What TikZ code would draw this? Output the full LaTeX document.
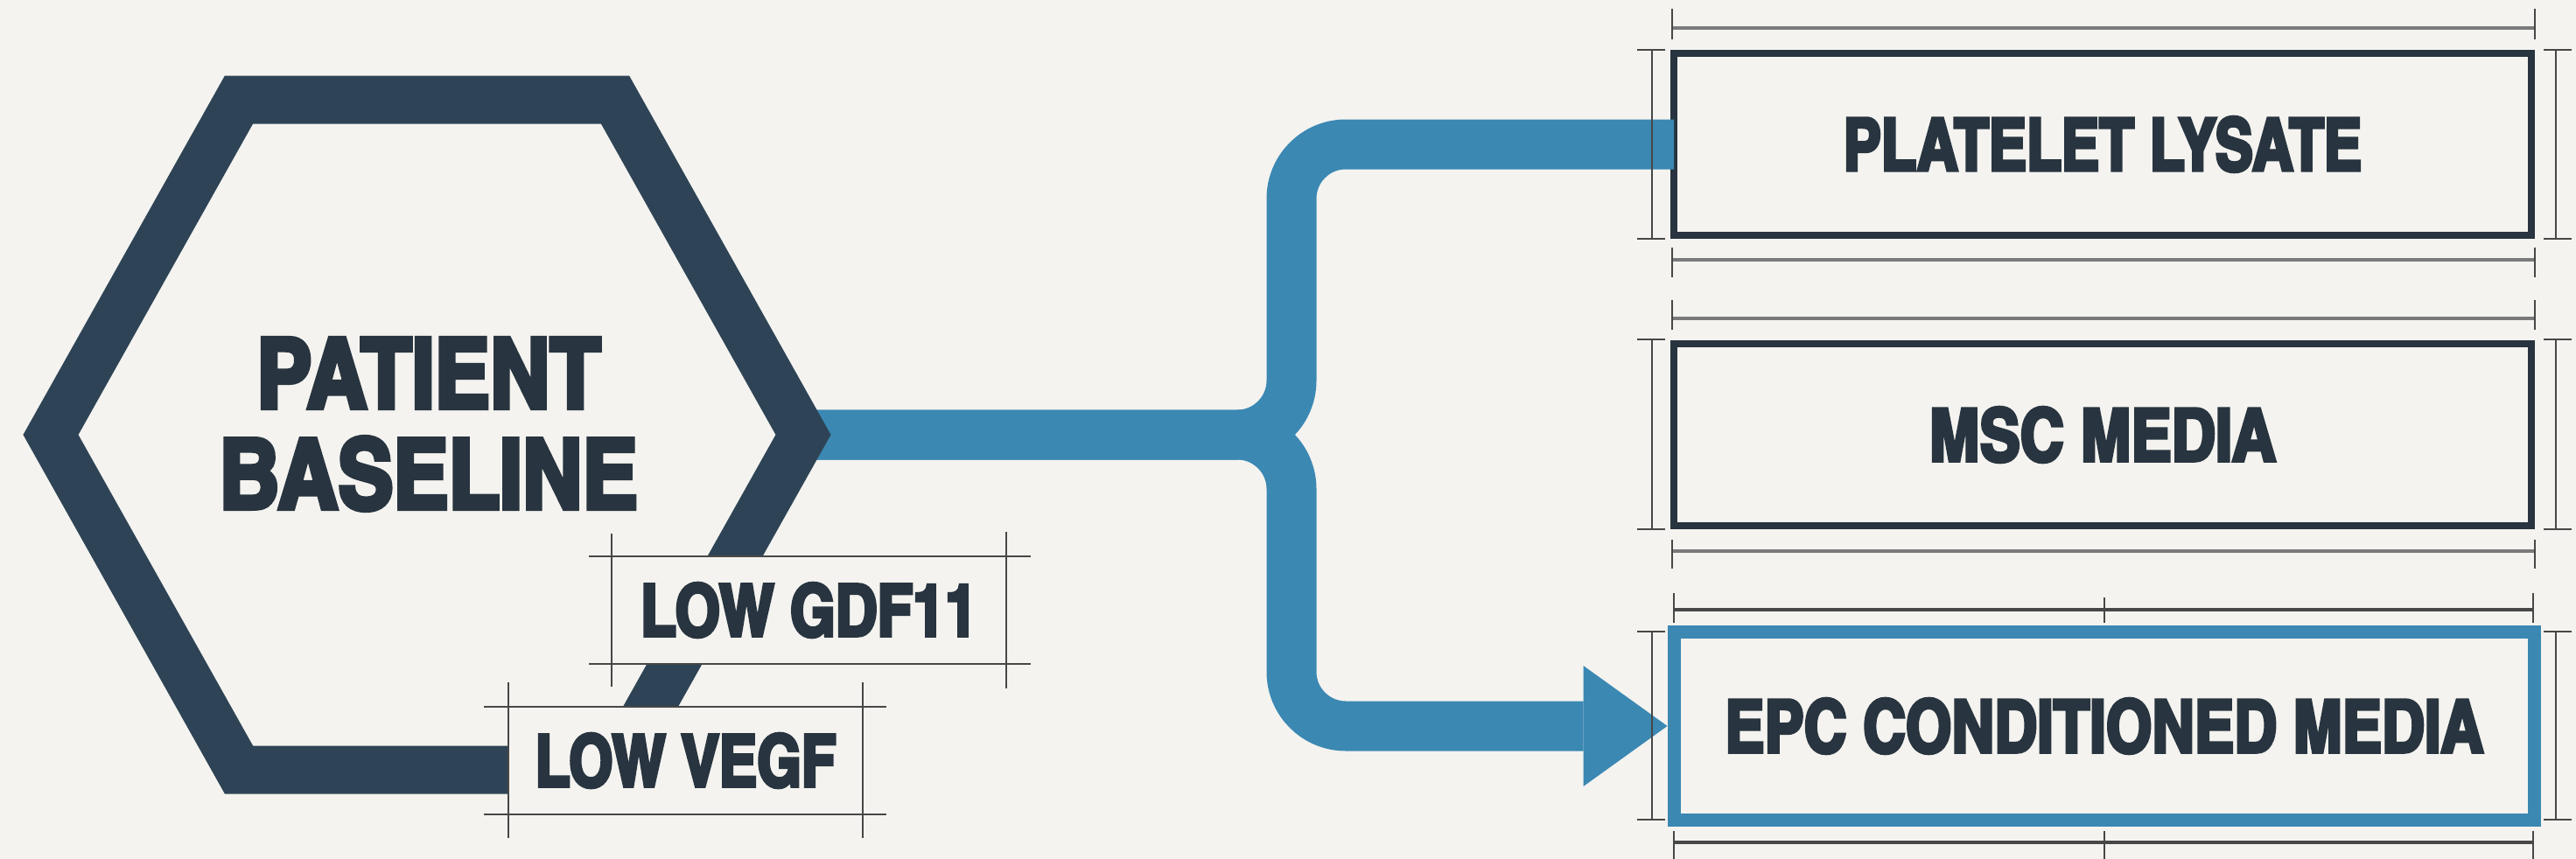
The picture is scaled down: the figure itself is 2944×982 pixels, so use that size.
\documentclass[tikz,border=0pt]{standalone}
\usepackage{fontspec}
\setmainfont{Liberation Sans}
\newfontfamily\condbold{texgyreheroscn-bold.otf}[FakeBold=4.5]
\usetikzlibrary{arrows.meta,calc}

\definecolor{bg}{HTML}{F4F3EF}
\definecolor{slate}{HTML}{2E4456}
\definecolor{ink}{HTML}{28343F}
\definecolor{flow}{HTML}{3B88B3}
\definecolor{rulegray}{HTML}{7A7A7A}
\definecolor{ruledark}{HTML}{474747}

\newcommand\hexlabelfont{\condbold\fontsize{111.4pt}{113pt}\selectfont}
\newcommand\taglabelfont{\condbold\fontsize{82pt}{84pt}\selectfont}
\newcommand\medialabelfont{\condbold\fontsize{83.2pt}{85pt}\selectfont}

\begin{document}
\begin{tikzpicture}[x=1pt,y=-1pt,
  lbl/.style={text=ink, inner sep=0pt, outer sep=0pt},
  flowline/.style={draw=flow, line width=57pt},
  tagbox/.style={lbl, fill=bg, font=\taglabelfont},
  tagrule/.style={draw=ruledark, line width=2.5pt},
  mediabox/.style={lbl, draw=ink, line width=8pt, fill=bg, font=\medialabelfont,
                   minimum width=980pt, minimum height=208pt},
  dimrule/.style={draw=rulegray, line width=3.5pt},
  dimtick/.style={draw=ruledark, line width=2.5pt}]

% canvas
\fill[bg] (0,0) rectangle (2944,982);
\useasboundingbox (0,0) rectangle (2944,982);

% right column: target media
\node[mediabox] (plt) at (2403,165) {\scalebox{0.952}[1]{PLATELET LYSATE}};
\node[mediabox] (msc) at (2403,497) {\scalebox{1.015}[1]{MSC MEDIA}};
\node[mediabox, draw=flow, line width=15pt, minimum width=983pt, minimum height=215pt]
  (epc) at (2405,830) {\scalebox{0.99}[1]{EPC CONDITIONED MEDIA}};

% hexagon vertex where the flow leaves
\coordinate (hexE) at (918,497);

% branching flow
\draw[flowline, rounded corners=62pt] (hexE) -- (1476,497) -- (1476,165) -- (plt.west);
\draw[flowline, rounded corners=62pt,
      -{Triangle[width=138pt,length=96pt,line width=0pt]}, shorten >=8pt]
  (hexE) -- (1476,497) -- (1476,830) -- (epc.west);

% patient hexagon
\draw[slate, line width=55pt, line join=miter]
  (58,497) -- (273,114) -- (703,114) -- (hexE) -- (703,880) -- (273,880) -- cycle;
\node[lbl, anchor=base, font=\hexlabelfont] (pt1) at (490,466.5) {\scalebox{1.039}[1]{PATIENT}};
\node[lbl, anchor=base, font=\hexlabelfont] (pt2) at (490,581.5) {\scalebox{1.039}[1]{BASELINE}};

% marker tags
\node[tagbox, minimum width=451pt, minimum height=123pt] (gdf) at (924.5,697.5)
  {\scalebox{0.987}[1]{LOW GDF11}};
\draw[tagrule] (673,636) -- (1178,636) (673,759) -- (1178,759)
               (699,610) -- (699,785) (1150,608) -- (1150,787);

\node[tagbox, minimum width=405pt, minimum height=123pt] (vegf) at (783.5,869.5)
  {\scalebox{0.965}[1]{LOW VEGF}};
\draw[tagrule] (553,808) -- (1013,808) (553,931) -- (1013,931)
               (581,780) -- (581,958) (986,780) -- (986,958);

% dimension lines of the first two media boxes
\foreach \t/\b/\dt/\db/\tt/\tb/\bt/\bb in {57/273/32/297/10/45/283/317, 388/605/364/630/343/377/617/650}{
  \draw[dimrule] (1911,\dt) -- (2897,\dt) (1911,\db) -- (2897,\db);
  \draw[dimtick] (1911,\tt) -- (1911,\tb) (2897,\tt) -- (2897,\tb)
                 (1911,\bt) -- (1911,\bb) (2897,\bt) -- (2897,\bb);
  \draw[dimtick] (1888,\t) -- (1888,\b) (1871,\t) -- (1903,\t) (1871,\b) -- (1903,\b)
                 (2921,\t) -- (2921,\b) (2907,\t) -- (2939,\t) (2907,\b) -- (2939,\b);
}

% dimension lines of the highlighted box
\draw[dimrule, draw=ruledark] (1913,697) -- (2895,697) (1913,963) -- (2895,963);
\draw[dimtick] (1913,678) -- (1913,712) (2405,683) -- (2405,712) (2895,678) -- (2895,712)
               (1913,950) -- (1913,982) (2405,950) -- (2405,982) (2895,950) -- (2895,982);
\draw[dimtick] (1888,722) -- (1888,937) (1871,722) -- (1903,722) (1871,937) -- (1903,937)
               (2921,722) -- (2921,937) (2907,722) -- (2939,722) (2907,937) -- (2939,937);
\end{tikzpicture}
\end{document}
